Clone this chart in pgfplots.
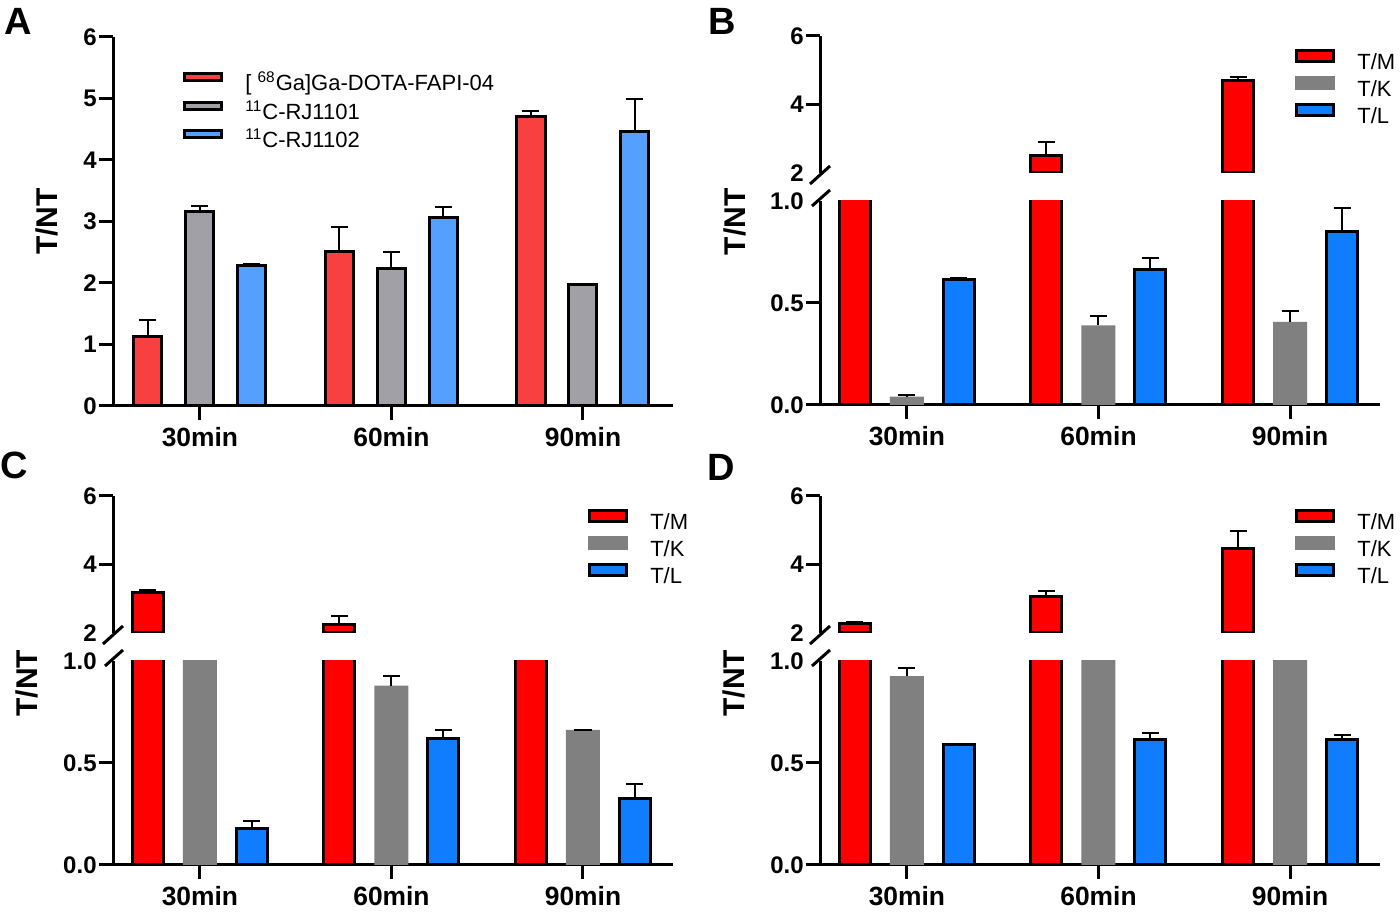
\documentclass[border=0pt]{standalone}
\usepackage{fontspec}
\setmainfont{Liberation Sans}
\usepackage{pgfplots}
\pgfplotsset{compat=1.18}
\usepackage{pgfplotstable}

\definecolor{Ared}{RGB}{248,64,64}
\definecolor{Agray}{RGB}{160,160,166}
\definecolor{Ablue}{RGB}{85,160,255}
\definecolor{Bred}{RGB}{255,0,0}
\definecolor{Bgray}{RGB}{128,128,128}
\definecolor{Bblue}{RGB}{16,125,255}

% x: 0=30min 1=60min 2=90min
\pgfplotstableread{
x r re g ge b be
0 1.13 0.27 3.17 0.08 2.28 0.03
1 2.51 0.40 2.24 0.27 3.07 0.17
2 4.71 0.09 1.98 0.00 4.47 0.52
}\tabA
\pgfplotstableread{
x tm tme tk tke tl tle
0 1.13 0.27 0.041 0.008 0.616 0.008
1 2.51 0.40 0.390 0.048 0.662 0.057
2 4.71 0.09 0.407 0.055 0.850 0.117
}\tabB
\pgfplotstableread{
x tm tme tk tke tl tle
0 3.17 0.08 1.25 0.00 0.178 0.039
1 2.24 0.27 0.879 0.049 0.619 0.044
2 1.98 0.00 0.662 0.000 0.328 0.067
}\tabC
\pgfplotstableread{
x tm tme tk tke tl tle
0 2.28 0.03 0.926 0.040 0.590 0.005
1 3.07 0.17 1.30 0.00 0.613 0.032
2 4.47 0.52 1.30 0.00 0.613 0.026
}\tabD

\pgfplotsset{
  panel/.style={
    scale only axis, width=280pt, xmin=-0.454, xmax=2.47,
    clip mode=individual,
    axis x line=bottom, axis y line=left,
    axis line style={-, line width=1.5pt, black},
    every tick/.style={black, line width=1.5pt},
    tick align=outside, major tick length=7pt,
    minor tick num=0,
    xtick={0,1,2}, xticklabels={30min,60min,90min},
    yticklabel style={font=\bfseries\fontsize{12}{12}\selectfont, inner sep=0pt, xshift=-1pt},
    xticklabel style={font=\bfseries\fontsize{13.2}{13.2}\selectfont, inner sep=0pt, yshift=-3.4pt},
    ylabel style={font=\bfseries\fontsize{15}{15}\selectfont, anchor=center},
    enlargelimits=false,
  },
  upper/.style={panel, height=68.5pt, ymin=2, ymax=6, axis x line=none,
    restrict y to domain=2:10,
    ytick={4,6}, yticklabels={4,6},
    extra y ticks={2}, extra y tick labels={2},
    extra y tick style={major tick length=0pt, tick label style={xshift=-7pt}},
    legend cell align=left,
    legend style={draw=none, fill=none, at={(0.848,0.905)}, anchor=north west,
      inner sep=0pt, row sep=0.75pt,
      nodes={inner sep=0pt, text height=8pt, text depth=2.5pt, font=\fontsize{11}{11}\selectfont},
      /tikz/every odd column/.append style={column sep=11pt}},
  },
  lower/.style={panel, height=102pt, ymin=0, ymax=1,
    ytick={0,0.5}, yticklabels={0.0,0.5},
    extra y ticks={1}, extra y tick labels={1.0},
    extra y tick style={major tick length=0pt, tick label style={xshift=-7pt}},
  },
  errs/.style={error bars/y dir=plus, error bars/y explicit,
    error bars/error bar style={draw=black, line width=1pt, solid},
    error bars/error mark options={rotate=90, draw=black, line width=1pt, mark size=4.25pt}},
  bbar/.style={ybar, bar width=15.5pt, bar shift=0pt, fill=#1, draw=black, line width=1.5pt,
    legend image code/.code={\draw[##1] (0pt,1.25pt) rectangle (18.5pt,6.75pt);}, errs},
  gbar/.style={ybar, bar width=17pt, bar shift=0pt, fill=#1, draw=none,
    legend image code/.code={\fill[##1] (-0.75pt,0.5pt) rectangle (19.25pt,7.5pt);}, errs},
  abar/.style={ybar, bar width=14pt, bar shift=0pt, fill=#1, draw=black, line width=1.5pt,
    legend image code/.code={\draw[##1] (0pt,2.25pt) rectangle (18.5pt,5.75pt);}, errs},
}

\newcommand{\breakup}{\draw[line width=1.5pt] ([shift={(-5pt,-5.5pt)}]rel axis cs:0,0) -- ([shift={(5pt,3.5pt)}]rel axis cs:0,0);}
\newcommand{\breaklow}{\draw[line width=1.5pt] ([shift={(-4pt,-2.5pt)}]rel axis cs:0,1) -- ([shift={(5pt,5.5pt)}]rel axis cs:0,1);}
\newcommand{\threelegend}{%
  \addlegendimage{bbar=Bred}\addlegendentry{T/M}
  \addlegendimage{gbar=Bgray}\addlegendentry{T/K}
  \addlegendimage{bbar=Bblue}\addlegendentry{T/L}}

\begin{document}
\begin{tikzpicture}
\useasboundingbox (0,0) rectangle (700pt,456.5pt);

% ---------------- Panel A ----------------
\begin{axis}[panel, at={(56.5pt,253.5pt)}, anchor=south west, height=184.5pt,
  ymin=0, ymax=6, ytick={0,1,2,3,4,5,6}, yticklabels={0,1,2,3,4,5,6},
  ylabel={T/NT}, ylabel style={at={(axis description cs:-0.118,0.5)}},
  legend cell align=left,
  legend style={draw=none, fill=none, at={(0.125,0.905)}, anchor=north west,
    inner sep=0pt, row sep=2.5pt,
    nodes={inner sep=0pt, text height=8pt, text depth=2.5pt, font=\fontsize{11}{11}\selectfont},
    /tikz/every odd column/.append style={column sep=11pt}},
]
\addplot[abar=Ared] table[x expr=\thisrow{x}-0.2715, y=r, y error=re] {\tabA};
\addlegendentry{[ \textsuperscript{68}Ga]Ga-DOTA-FAPI-04}
\addplot[abar=Agray] table[x=x, y=g, y error=ge] {\tabA};
\addlegendentry{\textsuperscript{11}C-RJ1101}
\addplot[abar=Ablue] table[x expr=\thisrow{x}+0.2715, y=b, y error=be] {\tabA};
\addlegendentry{\textsuperscript{11}C-RJ1102}
\end{axis}

% ---------------- Panel B ----------------
\begin{axis}[upper, at={(410pt,370pt)}, anchor=south west]
\addplot[forget plot, bbar=Bred] table[x expr=\thisrow{x}-0.2715, y=tm, y error=tme] {\tabB};
\addplot[forget plot, gbar=Bgray] table[x=x, y=tk, y error=tke] {\tabB};
\addplot[forget plot, bbar=Bblue] table[x expr=\thisrow{x}+0.2715, y=tl, y error=tle] {\tabB};
\threelegend
\breakup
\end{axis}
\begin{axis}[lower, at={(410pt,254pt)}, anchor=south west,
  ylabel={T/NT}, ylabel style={at={(axis description cs:-0.152,0.897)}}]
\addplot[bbar=Bred] table[x expr=\thisrow{x}-0.2715, y=tm, y error=tme] {\tabB};
\addplot[gbar=Bgray] table[x=x, y=tk, y error=tke] {\tabB};
\addplot[bbar=Bblue] table[x expr=\thisrow{x}+0.2715, y=tl, y error=tle] {\tabB};
\breaklow
\end{axis}

% ---------------- Panel C ----------------
\begin{axis}[upper, at={(56.5pt,140pt)}, anchor=south west]
\addplot[forget plot, bbar=Bred] table[x expr=\thisrow{x}-0.2715, y=tm, y error=tme] {\tabC};
\addplot[forget plot, gbar=Bgray] table[x=x, y=tk, y error=tke] {\tabC};
\addplot[forget plot, bbar=Bblue] table[x expr=\thisrow{x}+0.2715, y=tl, y error=tle] {\tabC};
\threelegend
\breakup
\end{axis}
\begin{axis}[lower, at={(56.5pt,24pt)}, anchor=south west,
  ylabel={T/NT}, ylabel style={at={(axis description cs:-0.154,0.892)}}]
\addplot[bbar=Bred] table[x expr=\thisrow{x}-0.2715, y=tm, y error=tme] {\tabC};
\addplot[gbar=Bgray] table[x=x, y=tk, y error=tke] {\tabC};
\addplot[bbar=Bblue] table[x expr=\thisrow{x}+0.2715, y=tl, y error=tle] {\tabC};
\breaklow
\end{axis}

% ---------------- Panel D ----------------
\begin{axis}[upper, at={(410pt,140pt)}, anchor=south west]
\addplot[forget plot, bbar=Bred] table[x expr=\thisrow{x}-0.2715, y=tm, y error=tme] {\tabD};
\addplot[forget plot, gbar=Bgray] table[x=x, y=tk, y error=tke] {\tabD};
\addplot[forget plot, bbar=Bblue] table[x expr=\thisrow{x}+0.2715, y=tl, y error=tle] {\tabD};
\threelegend
\breakup
\end{axis}
\begin{axis}[lower, at={(410pt,24pt)}, anchor=south west,
  ylabel={T/NT}, ylabel style={at={(axis description cs:-0.154,0.892)}}]
\addplot[bbar=Bred] table[x expr=\thisrow{x}-0.2715, y=tm, y error=tme] {\tabD};
\addplot[gbar=Bgray] table[x=x, y=tk, y error=tke] {\tabD};
\addplot[bbar=Bblue] table[x expr=\thisrow{x}+0.2715, y=tl, y error=tle] {\tabD};
\breaklow
\end{axis}

% panel letters
\node[font=\bfseries\fontsize{19}{19}\selectfont] at (9pt,446pt) {A};
\node[font=\bfseries\fontsize{19}{19}\selectfont] at (361pt,446pt) {B};
\node[font=\bfseries\fontsize{19}{19}\selectfont] at (7pt,224pt) {C};
\node[font=\bfseries\fontsize{19}{19}\selectfont] at (360.5pt,223pt) {D};
\end{tikzpicture}
\end{document}
